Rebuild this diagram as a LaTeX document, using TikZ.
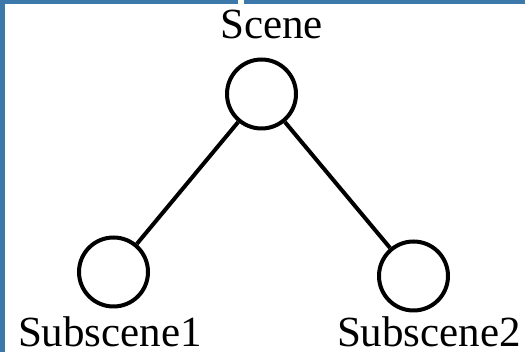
\documentclass[tikz,border=0pt]{standalone}
\usepackage{fontspec}
\setmainfont{Liberation Serif}
\definecolor{frameblue}{HTML}{3C78AA}
\begin{document}
\begin{tikzpicture}[x=1pt,y=1pt,
  scenecircle/.style={circle,draw=black,line width=4pt,minimum size=69pt,inner sep=0pt},
  link/.style={line width=4pt,black},
  label/.style={anchor=base,inner sep=0pt,font=\fontsize{43}{43}\selectfont}]
\useasboundingbox (0,0) rectangle (525,352);
\fill[white] (0,0) rectangle (525,352);
\fill[frameblue] (0,0) rectangle (5,352);
\fill[frameblue] (0,348) rectangle (525,352);
\fill[white!95!yellow] (238,348) rectangle (244,352);
\node[scenecircle] (scene) at (261.5,258) {};
\node[scenecircle] (sub1) at (113.5,80) {};
\node[scenecircle] (sub2) at (413.5,76) {};
\draw[link] (scene) -- (sub1);
\draw[link] (scene) -- (sub2);
\node[label] (tscene) at (271.5,313) {Scene};
\node[label] (tsub1) at (110,5) {Subscene1};
\node[label] (tsub2) at (429,5) {Subscene2};
\end{tikzpicture}
\end{document}
